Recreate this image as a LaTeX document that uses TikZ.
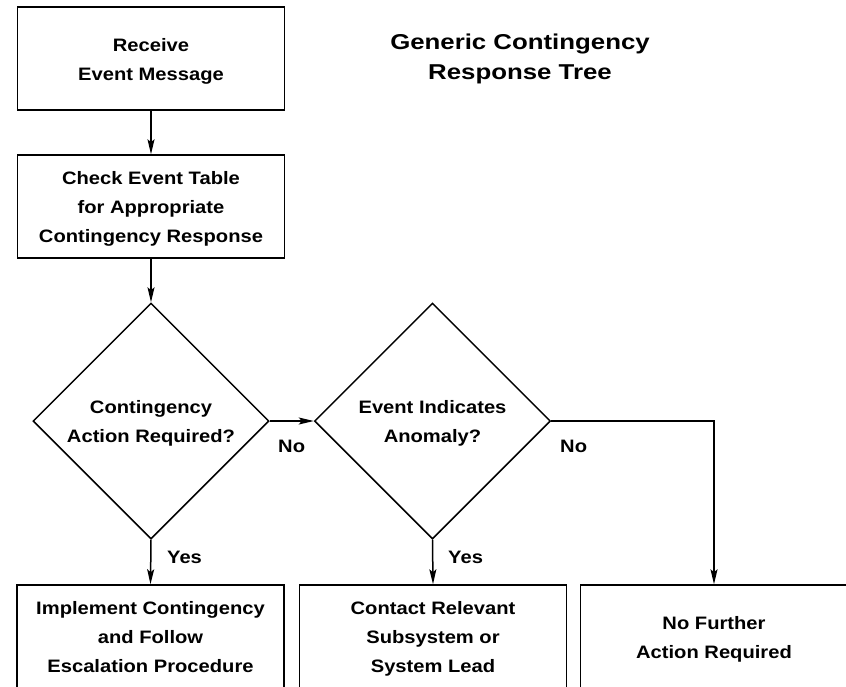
\documentclass[tikz,border=0pt]{standalone}
\usepackage{fontspec}
\setmainfont{Liberation Sans}
\newfontfamily\boxfont[FakeStretch=1.12]{Liberation Sans}
\newfontfamily\headfont[FakeStretch=1.2]{Liberation Sans}
\newcommand\toplinestrut{\rule{0pt}{19pt}}
\newcommand\botlinestrut{\rule[-5pt]{0pt}{0pt}}
\newcommand\boxtext[1]{\toplinestrut#1\botlinestrut}
\usetikzlibrary{shapes.geometric,arrows.meta}
\tikzset{
  every node/.style={font=\boxfont\bfseries\fontsize{18}{29}\selectfont, align=center},
  procbox/.style={draw, line width=1.5pt, minimum width=267pt, minimum height=103pt, inner sep=0pt},
  decision/.style={draw, diamond, aspect=1, line width=1.5pt, minimum width=236pt, minimum height=236pt, inner sep=0pt},
  flow/.style={line width=1.5pt, -{Stealth[length=15pt,width=7pt,inset=3pt]}},
  lbl/.style={anchor=base west, inner sep=0pt},
}
\begin{document}
\begin{tikzpicture}[x=1pt,y=-1pt]
\useasboundingbox (0,0) rectangle (846,686);
\clip (0,0) rectangle (846,686);
\node[procbox] (b1) at (151,58.5) {\boxtext{Receive\\Event Message}};
\node[procbox] (b2) at (151,206.5) {\boxtext{Check Event Table\\for Appropriate\\Contingency Response}};
\node[font=\headfont\bfseries\fontsize{21.5}{30}\selectfont] (title) at (520,59) {Generic Contingency\\Response Tree};
\node[decision] (d1) at (151,421) {\boxtext{Contingency\\Action Required?}};
\node[decision] (d2) at (432.5,421) {\boxtext{Event Indicates\\Anomaly?}};
\node[procbox] (ba) at (150.5,636.5) {\boxtext{Implement Contingency\\and Follow\\Escalation Procedure}};
\node[procbox] (bb) at (433,636.5) {\boxtext{Contact Relevant\\Subsystem or\\System Lead}};
\node[procbox] (bc) at (714,636.5) {\boxtext{No Further\\Action Required}};
\draw[flow] (b1.south) -- (b2.north);
\draw[flow] (b2.south) -- (d1.north);
\draw[flow] (d1.east) -- (d2.west);
\draw[flow] (d1.south) -- (ba.north);
\draw[flow] (d2.south) -- (bb.north);
\draw[flow] (d2.east) -| (bc.north);
\node[lbl] (no1) at (278,452) {No};
\node[lbl] (no2) at (560,452) {No};
\node[lbl] (yes1) at (167,563) {Yes};
\node[lbl] (yes2) at (448,563) {Yes};
\end{tikzpicture}
\end{document}
